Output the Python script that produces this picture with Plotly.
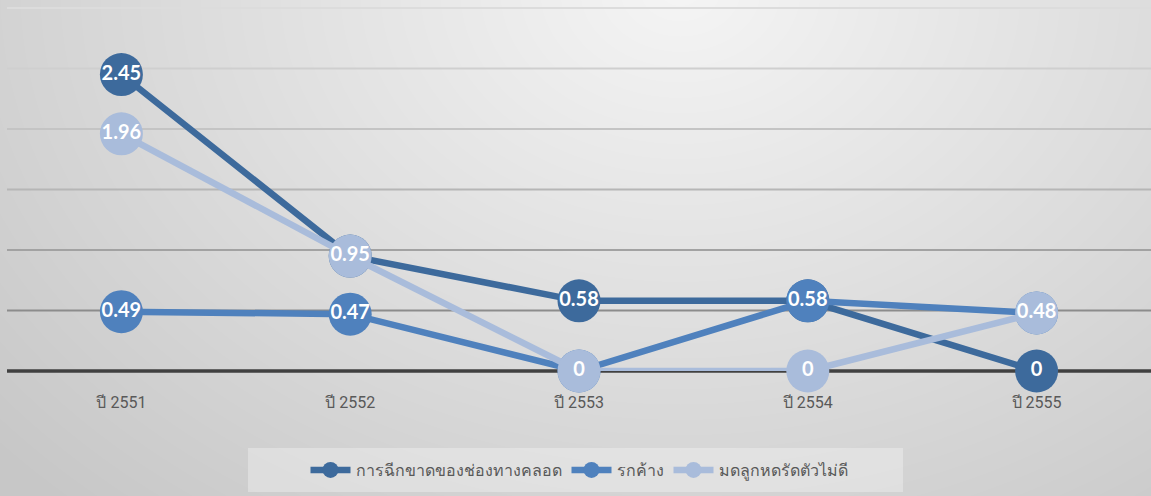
import base64, struct, zlib
import numpy as np
import plotly.graph_objects as go

W, H = 1151, 496

categories = ["ปี 2551", "ปี 2552", "ปี 2553", "ปี 2554", "ปี 2555"]
tear = [2.45, 0.95, 0.58, 0.58, 0]
retained = [0.49, 0.47, 0, 0.58, 0.48]
atony = [1.96, 0.95, 0, 0, 0.48]
series_names = ["การฉีกขาดของช่องทางคลอด", "รกค้าง", "มดลูกหดรัดตัวไม่ดี"]
series_colors = ["#3D6A9C", "#4F81BD", "#A9BCDB"]
y_max = 3.0
grid_values = [0.5, 1.0, 1.5, 2.0, 2.5, 3.0]
grid_colors = ["#8C8C8C", "#A2A2A2", "#B6B6B6", "#C4C4C4", "#CFCFCF", "#DCDCDC"]


def png_uri(arr):
    h, w, _ = arr.shape
    raw = b"".join(b"\x00" + arr[i].tobytes() for i in range(h))

    def chunk(t, d):
        c = struct.pack(">I", len(d)) + t + d
        return c + struct.pack(">I", zlib.crc32(t + d) & 0xFFFFFFFF)

    png = b"\x89PNG\r\n\x1a\n" + chunk(b"IHDR", struct.pack(">IIBBBBB", w, h, 8, 2, 0, 0, 0))
    png += chunk(b"IDAT", zlib.compress(raw, 9)) + chunk(b"IEND", b"")
    return "data:image/png;base64," + base64.b64encode(png).decode()


yy, xx = np.mgrid[0:H, 0:W].astype(float)
t = np.sqrt(((xx - 680) / 600) ** 2 + ((yy + 10) / 460) ** 2)
c = np.clip(245 - 30 * t, 199, 245).astype(np.uint8)
bg = np.stack([c, c, c], axis=-1)

ml, mr, mt, mb = 7, 0, 8, 125
pw, ph = W - ml - mr, H - mt - mb

fig = go.Figure()
for name, vals, col in zip(series_names, [tear, retained, atony], series_colors):
    fig.add_trace(go.Scatter(
        x=categories, y=vals, name=name, mode="lines+markers+text",
        line=dict(color=col, width=6.5),
        marker=dict(color=col, size=43, line=dict(width=0)),
        text=[f"{v:g}" for v in vals], textposition="middle center",
        textfont=dict(family="Lato, Open Sans, sans-serif", size=20, color="white", weight="bold"),
        cliponaxis=False,
    ))

shapes = []
# legend box
shapes.append(dict(type="rect", xref="paper", yref="paper",
                   x0=(248 - ml) / pw, x1=(903 - ml) / pw,
                   y0=(H - mb - 492) / ph, y1=(H - mb - 448) / ph,
                   fillcolor="rgba(255,255,255,0.3)", line=dict(width=0), layer="below"))
for v, gc in zip(grid_values, grid_colors):
    shapes.append(dict(type="line", xref="paper", yref="paper", x0=0, x1=1.01,
                       y0=v / y_max, y1=v / y_max,
                       line=dict(color=gc, width=2), layer="below"))
shapes.append(dict(type="line", xref="paper", yref="paper", x0=0, x1=1.01, y0=0, y1=0,
                   line=dict(color="#404040", width=3.5), layer="below"))

fig.update_layout(
    width=W, height=H,
    margin=dict(l=ml, r=mr, t=mt, b=mb),
    paper_bgcolor="#d8d8d8", plot_bgcolor="rgba(0,0,0,0)",
    images=[dict(source=png_uri(bg), xref="paper", yref="paper",
                 x=-ml / pw, y=1 + mt / ph, sizex=W / pw, sizey=H / ph,
                 xanchor="left", yanchor="top", sizing="stretch", layer="below")],
    shapes=shapes,
    showlegend=True,
    legend=dict(orientation="h", x=0.5, xanchor="center", y=(H - mb - 470) / ph, yanchor="middle",
                bgcolor="rgba(0,0,0,0)", font=dict(size=16, color="#595959",
                family="Roboto, Noto Sans, sans-serif"), itemwidth=40, traceorder="normal"),
    xaxis=dict(range=[-0.5, 4.5], showgrid=False, zeroline=False, showline=False,
               ticks="", ticklabelstandoff=20,
               tickfont=dict(size=16, color="#595959", family="Roboto, Noto Sans, sans-serif")),
    yaxis=dict(range=[0, y_max], showgrid=False, zeroline=False, showticklabels=False, showline=False),
)

fig.write_html("out.html")
